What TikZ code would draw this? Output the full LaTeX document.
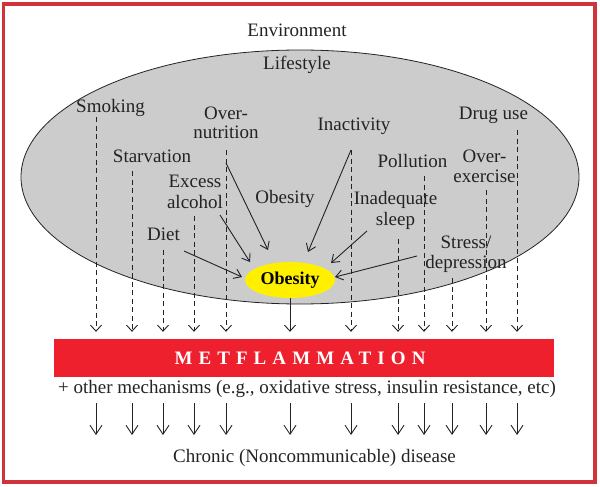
\documentclass[tikz,border=0pt]{standalone}
\usepackage{fontspec}
\setmainfont{Liberation Serif}
\usetikzlibrary{arrows.meta,shapes.geometric}
\definecolor{framered}{RGB}{208,52,58}
\definecolor{metred}{RGB}{238,32,45}
\definecolor{ellgrey}{RGB}{204,204,204}
\definecolor{obyellow}{RGB}{255,240,0}
\definecolor{ink}{RGB}{35,35,35}
\begin{document}
\begin{tikzpicture}[x=1pt,y=-1pt,
  lab/.style={font=\fontsize{19}{20}\selectfont, inner sep=0pt, anchor=base, align=center, text=ink},
  dsh/.style={draw=ink, line width=0.9pt, dash pattern=on 5pt off 3.5pt, shorten >=7pt,
    -{Straight Barb[length=6pt,width=11pt,line width=0.9pt]}},
  solidin/.style={draw=ink, line width=0.9pt, shorten >=7pt,
    -{Straight Barb[length=6pt,width=11pt,line width=0.9pt]}},
  sarr/.style={draw=ink, line width=0.9pt,
    -{Straight Barb[length=9pt,width=12pt,line width=0.9pt]}},
  toob/.style={draw=ink, line width=0.9pt,
    -{Straight Barb[length=7pt,width=10pt,line width=0.9pt]}}]
\useasboundingbox (0,0) rectangle (600,487);
\fill[white] (0,0) rectangle (600,487);
\draw[framered, line width=3.5pt] (3.5,4) rectangle (595,482);

% lifestyle ellipse
\node[ellipse, draw=ink, line width=0.8pt, fill=ellgrey, minimum width=558pt, minimum height=254pt, inner sep=0pt] (life) at (300,177) {};

% labels (multi-line nodes: base = baseline of last line)
\node[lab] (env) at (297,37) {Environment};
\node[lab] (lst) at (297,70) {Lifestyle};
\node[lab] (smk) at (110.5,113) {Smoking};
\node[lab, font=\fontsize{19}{18.5}\selectfont] (ovn) at (226,138) {Over-\\nutrition};
\node[lab] (ina) at (354,130) {Inactivity};
\node[lab] (drg) at (493.5,120) {Drug use};
\node[lab] (stv) at (152,162) {Starvation};
\node[lab] (pol) at (412.5,167) {Pollution};
\node[lab] (ove) at (484.5,182) {Over-\\exercise};
\node[lab, font=\fontsize{19}{21}\selectfont] (alc) at (195,208) {Excess\\alcohol};
\node[lab] (obl) at (285,203) {Obesity};
\node[lab, font=\fontsize{19}{21}\selectfont] (slp) at (395.5,225) {Inadequate\\sleep};
\node[lab] (dit) at (163.5,240) {Diet};
\node[lab] (str) at (466,268) {Stress/\\depression};

% central obesity
\node[ellipse, fill=obyellow, minimum width=90pt, minimum height=36pt, inner sep=0pt,
  font=\fontsize{18}{18}\selectfont\bfseries, text=black] (ob) at (290,280) {Obesity};

% metflammation bar and texts below
\node[fill=metred, minimum width=500pt, minimum height=38pt, inner sep=0pt] (met) at (304,358) {};
\node[inner sep=0pt, text=white,
  font=\fontsize{19}{19}\selectfont\bfseries\addfontfeature{LetterSpace=32}] (mett) at (300,358.5) {METFLAMMATION};
\node[lab] (oth) at (307,393) {+ other mechanisms (e.g., oxidative stress, insulin resistance, etc)};
\node[lab] (chr) at (314.5,462) {Chronic (Noncommunicable) disease};

% dashed influence lines
\foreach \i/\x/\y in {1/96/117, 2/132/171, 3/163/250, 4/194/216, 5/226/150, 6/351/150,
                      7/398/239, 8/424/176, 9/452/278, 10/486/190, 11/517/130} {
  \coordinate (s\i) at (\x,\y);
}
\coordinate (rA) at (0,403);
\coordinate (rB) at (0,435);
\foreach \i in {1,...,11} {
  \draw[dsh] (s\i) -- (s\i |- met.north);
  \draw[sarr] (s\i |- rA) -- (s\i |- rB);
}
\draw[solidin] (ob.south) -- (ob.south |- met.north);
\draw[sarr] (ob.south |- rA) -- (ob.south |- rB);

% arrows into obesity
\coordinate (a1) at (184,251); \coordinate (t1) at (242,277);
\coordinate (a2) at (220,215); \coordinate (t2) at (250,262);
\coordinate (a3) at (226,163); \coordinate (t3) at (268,250);
\coordinate (a4) at (351,150); \coordinate (t4) at (308,252);
\coordinate (a5) at (367,231); \coordinate (t5) at (331,263);
\coordinate (a6) at (417,256); \coordinate (t6) at (335,277);
\foreach \i in {1,...,6} { \draw[toob] (a\i) -- (t\i); }
\end{tikzpicture}
\end{document}
